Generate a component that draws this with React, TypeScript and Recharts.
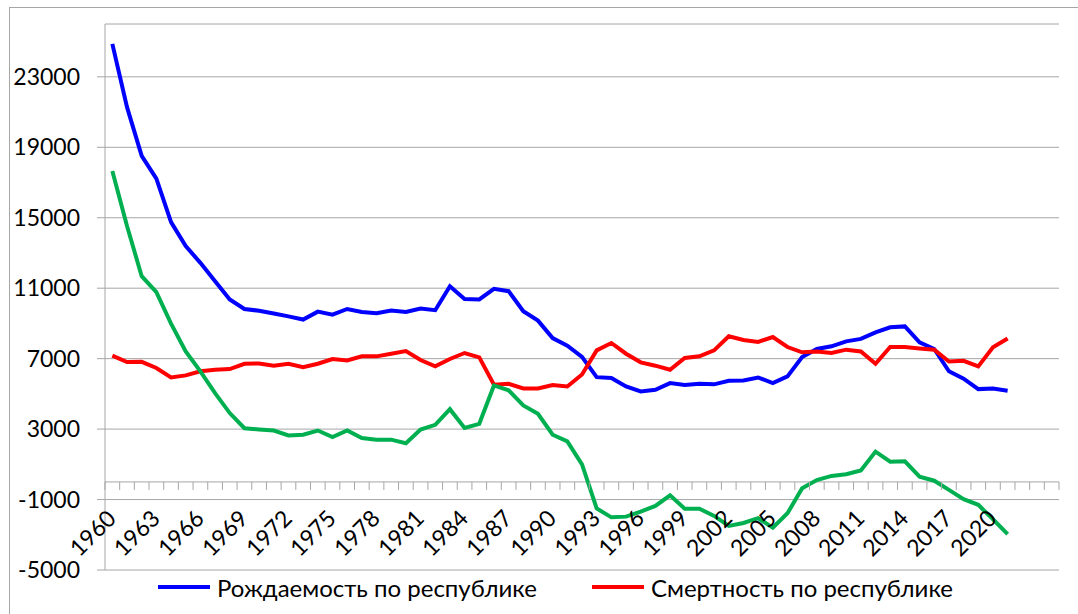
import {
  CartesianGrid,
  Legend,
  Line,
  LineChart,
  ReferenceLine,
  XAxis,
  YAxis,
} from 'recharts';

const years = [
  '1960', '1961', '1962', '1963', '1964', '1965', '1966', '1967', '1968', '1969',
  '1970', '1971', '1972', '1973', '1974', '1975', '1976', '1977', '1978', '1979',
  '1980', '1981', '1982', '1983', '1984', '1985', '1986', '1987', '1988', '1989',
  '1990', '1991', '1992', '1993', '1994', '1995', '1996', '1997', '1998', '1999',
  '2000', '2001', '2002', '2003', '2004', '2005', '2006', '2007', '2008', '2009',
  '2010', '2011', '2012', '2013', '2014', '2015', '2016', '2017', '2018', '2019',
  '2020', '2021', '', '', '',
];

// Рождаемость
const births = [
  24870, 21280, 18510, 17220, 14750, 13390, 12440, 11400, 10360, 9820,
  9720, 9560, 9400, 9220, 9670, 9500, 9820, 9650, 9580, 9730,
  9650, 9840, 9750, 11110, 10390, 10360, 10960, 10830, 9690, 9160,
  8170, 7740, 7100, 5950, 5900, 5420, 5140, 5230, 5610, 5500,
  5570, 5540, 5740, 5760, 5930, 5610, 5990, 7090, 7550, 7700,
  7980, 8120, 8490, 8780, 8830, 7930, 7550, 6280, 5860, 5270,
  5310, 5180,
];

// Смертность
const deaths = [
  7170, 6810, 6820, 6470, 5930, 6050, 6280, 6370, 6410, 6710,
  6730, 6600, 6710, 6520, 6710, 6980, 6900, 7130, 7130, 7280,
  7430, 6920, 6560, 6980, 7320, 7070, 5520, 5570, 5310, 5310,
  5500, 5420, 6100, 7470, 7890, 7280, 6790, 6600, 6370, 7040,
  7130, 7470, 8270, 8060, 7950, 8230, 7660, 7360, 7410, 7320,
  7510, 7410, 6710, 7660, 7660, 7580, 7510, 6840, 6880, 6560,
  7640, 8140,
];

// Естественный прирост
const growth = [
  17660, 14530, 11680, 10770, 8990, 7410, 6280, 5040, 3910, 3050,
  2980, 2920, 2640, 2680, 2920, 2550, 2920, 2490, 2390, 2400,
  2200, 2970, 3240, 4130, 3060, 3300, 5480, 5200, 4340, 3870,
  2680, 2300, 1000, -1500, -2010, -1970, -1690, -1360, -760, -1520,
  -1520, -1930, -2500, -2330, -2060, -2600, -1780, -360, 110, 340,
  440, 650, 1720, 1150, 1170, 300, 70, -450, -980, -1300,
  -2120, -2960,
];

const yTicks = [-5000, -1000, 3000, 7000, 11000, 15000, 19000, 23000];

const data = years.map((year, i) => ({
  year,
  births: births[i],
  deaths: deaths[i],
  growth: growth[i],
}));

const FONT = "Lato, 'Open Sans', 'DejaVu Sans', sans-serif";
const AXIS = '#a6a6a6';
const CHART_W = 1078;
const CHART_H = 614;
const MARGIN = { top: 24, right: 19, bottom: 43, left: 0 };
const Y_AXIS_W = 105;
const X_AXIS_H = 1;
const Y_MIN = -5000;
const Y_MAX = 26000;

const plotW = CHART_W - MARGIN.right - MARGIN.left - Y_AXIS_W;
const plotH = CHART_H - MARGIN.top - MARGIN.bottom - X_AXIS_H;
const zeroY = MARGIN.top + (plotH * Y_MAX) / (Y_MAX - Y_MIN);
const band = plotW / years.length;

// category axis drawn along the zero line, tick marks between categories
const YearTick = ({ x, payload, index }: any) => {
  const left = x - band / 2;
  const showLabel = payload.value !== '' && index % 3 === 0;
  const ax = x + 5;
  const ay = zeroY + 38;
  return (
    <g>
      <line x1={left} x2={left} y1={zeroY} y2={zeroY + 8} stroke={AXIS} />
      {index === years.length - 1 && (
        <line x1={left + band} x2={left + band} y1={zeroY} y2={zeroY + 8} stroke={AXIS} />
      )}
      {showLabel && (
        <text
          x={ax}
          y={ay}
          transform={`rotate(-45 ${ax} ${ay})`}
          textAnchor='end'
          fontSize={23}
          fontFamily={FONT}
          fill='#000'
        >
          {payload.value}
        </text>
      )}
    </g>
  );
};

const legendLefts = [158, 592];

const LegendContent = ({ payload }: any) => {
  const items = (payload || []).filter((p: any) => p.type !== 'none');
  return (
    <div style={{ position: 'relative', height: 30 }}>
      {items.map((item: any, i: number) => (
        <div
          key={item.value}
          style={{
            position: 'absolute',
            left: legendLefts[i],
            top: 0,
            height: 30,
            display: 'flex',
            alignItems: 'center',
            whiteSpace: 'nowrap',
          }}
        >
          <svg width={52} height={6} style={{ marginRight: 7 }}>
            <line x1={0} x2={52} y1={3} y2={3} stroke={item.color} strokeWidth={4} />
          </svg>
          <span style={{ fontFamily: FONT, fontSize: 24, color: '#000' }}>{item.value}</span>
        </div>
      ))}
    </div>
  );
};

export default function App() {
  return (
    <div
      style={{
        position: 'absolute',
        left: 0,
        top: 0,
        width: CHART_W,
        height: CHART_H,
        background: '#fff',
        overflow: 'hidden',
      }}
    >
      <div
        style={{
          position: 'absolute',
          left: 9,
          top: 7,
          width: 1200,
          height: 800,
          border: `1px solid ${AXIS}`,
        }}
      />
      <div style={{ position: 'absolute', left: 0, top: 0 }}>
        <LineChart width={CHART_W} height={CHART_H} data={data} margin={MARGIN}>
          <CartesianGrid vertical={false} stroke={AXIS} />
          <XAxis
            dataKey='year'
            interval={0}
            padding={{ left: band / 2, right: band / 2 }}
            height={X_AXIS_H}
            axisLine={false}
            tickLine={false}
            tick={<YearTick />}
          />
          <YAxis
            width={Y_AXIS_W}
            domain={[Y_MIN, Y_MAX]}
            ticks={yTicks}
            interval={0}
            stroke={AXIS}
            tickSize={8}
            tickMargin={17}
            tick={{ fill: '#000', fontSize: 23, fontFamily: FONT }}
          />
          <ReferenceLine y={0} stroke={AXIS} />
          <Legend
            verticalAlign='middle'
            align='center'
            wrapperStyle={{ top: 572, left: 0, width: CHART_W, height: 30 }}
            content={<LegendContent />}
          />
          <Line
            dataKey='births'
            name='Рождаемость по республике'
            stroke='#0000ff'
            strokeWidth={4}
            dot={false}
            isAnimationActive={false}
          />
          <Line
            dataKey='deaths'
            name='Смертность по республике'
            stroke='#ff0000'
            strokeWidth={4}
            dot={false}
            isAnimationActive={false}
          />
          <Line
            dataKey='growth'
            name='Естественный прирост'
            stroke='#00b050'
            strokeWidth={4}
            dot={false}
            legendType='none'
            isAnimationActive={false}
          />
        </LineChart>
      </div>
    </div>
  );
}
